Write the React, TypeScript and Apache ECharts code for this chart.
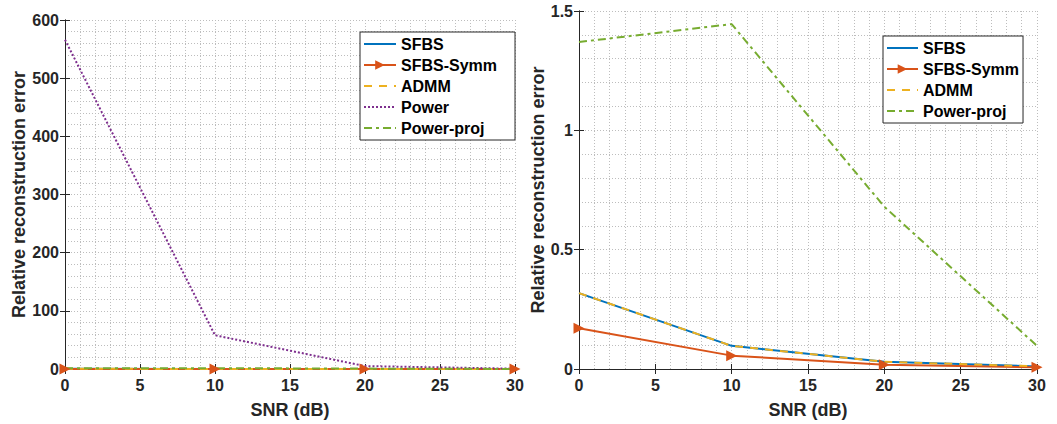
import React, { useEffect, useRef } from "react";
import * as echarts from "echarts";

const snr = [0, 10, 20, 30];
const sfbs = [0.318, 0.097, 0.03, 0.011];
const sfbsSymm = [0.171, 0.056, 0.018, 0.007];
const admm = [0.318, 0.097, 0.03, 0.011];
const power = [566, 58, 5, 0.5];
const powerProj = [1.37, 1.445, 0.68, 0.097];

const leftLegend = ["SFBS", "SFBS-Symm", "ADMM", "Power", "Power-proj"];
const rightLegend = ["SFBS", "SFBS-Symm", "ADMM", "Power-proj"];

const C = { blue: "#0072BD", orange: "#D95319", yellow: "#EDB120", purple: "#7E2F8E", green: "#77AC30" };
const FONT = "'Liberation Sans', Arial, Helvetica, sans-serif";
const AX = "#262626";

const pts = (ys: number[]) => snr.map((x, i) => [x, ys[i]]);

export default function App() {
  const ref = useRef<HTMLDivElement>(null);
  useEffect(() => {
    document.body.style.margin = "0";
    const chart = echarts.init(ref.current!, null, { renderer: "svg" });
    const grids = [
      { left: 65, top: 20, width: 450, height: 350 },
      { left: 579, top: 11, width: 458, height: 359 },
    ];
    const gridLine = { show: true, lineStyle: { color: "#bdbdbd", type: [1, 2], width: 1 } };
    const mkX = (gi: number) => ({
      type: "value", gridIndex: gi, min: 0, max: 30, interval: 5,
      name: "SNR (dB)", nameLocation: "middle", nameGap: 32,
      nameTextStyle: { fontFamily: FONT, fontWeight: "bold", fontSize: 18, color: AX },
      axisLine: { lineStyle: { color: AX, width: 1 } },
      axisTick: { inside: true, length: 5, lineStyle: { color: AX } },
      axisLabel: { fontFamily: FONT, fontWeight: "bold", fontSize: 16, color: AX, margin: 8 },
      splitLine: gridLine,
      minorTick: { show: false, splitNumber: 5 },
      minorSplitLine: gridLine,
    });
    const mkXTop = (gi: number) => ({
      type: "value", gridIndex: gi, min: 0, max: 30, interval: 5, position: "top",
      axisLine: { lineStyle: { color: AX, width: 1 } },
      axisTick: { inside: true, length: 5, lineStyle: { color: AX } },
      axisLabel: { show: false }, splitLine: { show: false },
    });
    const mkY = (gi: number, max: number, interval: number, gap: number) => ({
      type: "value", gridIndex: gi, min: 0, max, interval,
      name: "Relative reconstruction error", nameLocation: "middle", nameGap: gap,
      nameTextStyle: { fontFamily: FONT, fontWeight: "bold", fontSize: 18, color: AX },
      axisLine: { show: true, lineStyle: { color: AX, width: 1 } },
      axisTick: { show: true, inside: true, length: 5, lineStyle: { color: AX } },
      axisLabel: { fontFamily: FONT, fontWeight: "bold", fontSize: 16, color: AX, margin: 6 },
      splitLine: gridLine,
      minorTick: { show: false, splitNumber: 5 },
      minorSplitLine: gridLine,
    });
    const mkYRight = (gi: number, max: number, interval: number) => ({
      type: "value", gridIndex: gi, min: 0, max, interval, position: "right",
      axisLine: { show: true, lineStyle: { color: AX, width: 1 } },
      axisTick: { show: true, inside: true, length: 5, lineStyle: { color: AX } },
      axisLabel: { show: false }, splitLine: { show: false },
    });
    const series = (xi: number, yi: number, withPower: boolean) => {
      const s: any[] = [
        { name: "SFBS", data: pts(sfbs), lineStyle: { color: C.blue, width: 2 }, itemStyle: { color: C.blue }, symbol: "none" },
        { name: "SFBS-Symm", data: pts(sfbsSymm), lineStyle: { color: C.orange, width: 2 }, itemStyle: { color: C.orange }, symbol: "triangle", symbolRotate: -90, symbolSize: 11, showSymbol: true },
        { name: "ADMM", data: pts(admm), lineStyle: { color: C.yellow, width: 2, type: [8, 7] }, itemStyle: { color: C.yellow }, symbol: "none" },
      ];
      if (withPower) s.push({ name: "Power", data: pts(power), lineStyle: { color: C.purple, width: 2, type: [2, 2] }, itemStyle: { color: C.purple }, symbol: "none" });
      s.push({ name: "Power-proj", data: pts(powerProj), lineStyle: { color: C.green, width: 2, type: [8, 4, 3, 4] }, itemStyle: { color: C.green }, symbol: "none" });
      return s.map((o) => ({ ...o, type: "line", xAxisIndex: xi, yAxisIndex: yi, z: 3 }));
    };
    const legendItems = (names: string[]) =>
      names.map((n) => (n === "SFBS-Symm" ? { name: n } : { name: n, itemStyle: { opacity: 0 } }));
    const legendBase = {
      orient: "vertical", backgroundColor: "#fff", borderColor: AX, borderWidth: 1,
      itemHeight: 12, itemGap: 5,
      textStyle: { fontFamily: FONT, fontWeight: "bold", fontSize: 16, color: "#000" },
    };
    chart.setOption({
      animation: false,
      backgroundColor: "#fff",
      grid: grids,
      xAxis: [mkX(0), mkX(1), mkXTop(0), mkXTop(1)],
      yAxis: [mkY(0, 600, 100, 35), mkY(1, 1.5, 0.5, 32), mkYRight(0, 600, 100), mkYRight(1, 1.5, 0.5)],
      legend: [
        { ...legendBase, data: legendItems(leftLegend), left: 360, top: 32, itemWidth: 32, padding: [4, 18, 4, 3] },
        { ...legendBase, data: legendItems(rightLegend), left: 883, top: 36, itemWidth: 31, padding: [4, 4, 4, 3] },
      ],
      series: [...series(0, 0, true), ...series(1, 1, false)],
    });
    return () => chart.dispose();
  }, []);
  return <div ref={ref} style={{ width: 1057, height: 424 }} />;
}
